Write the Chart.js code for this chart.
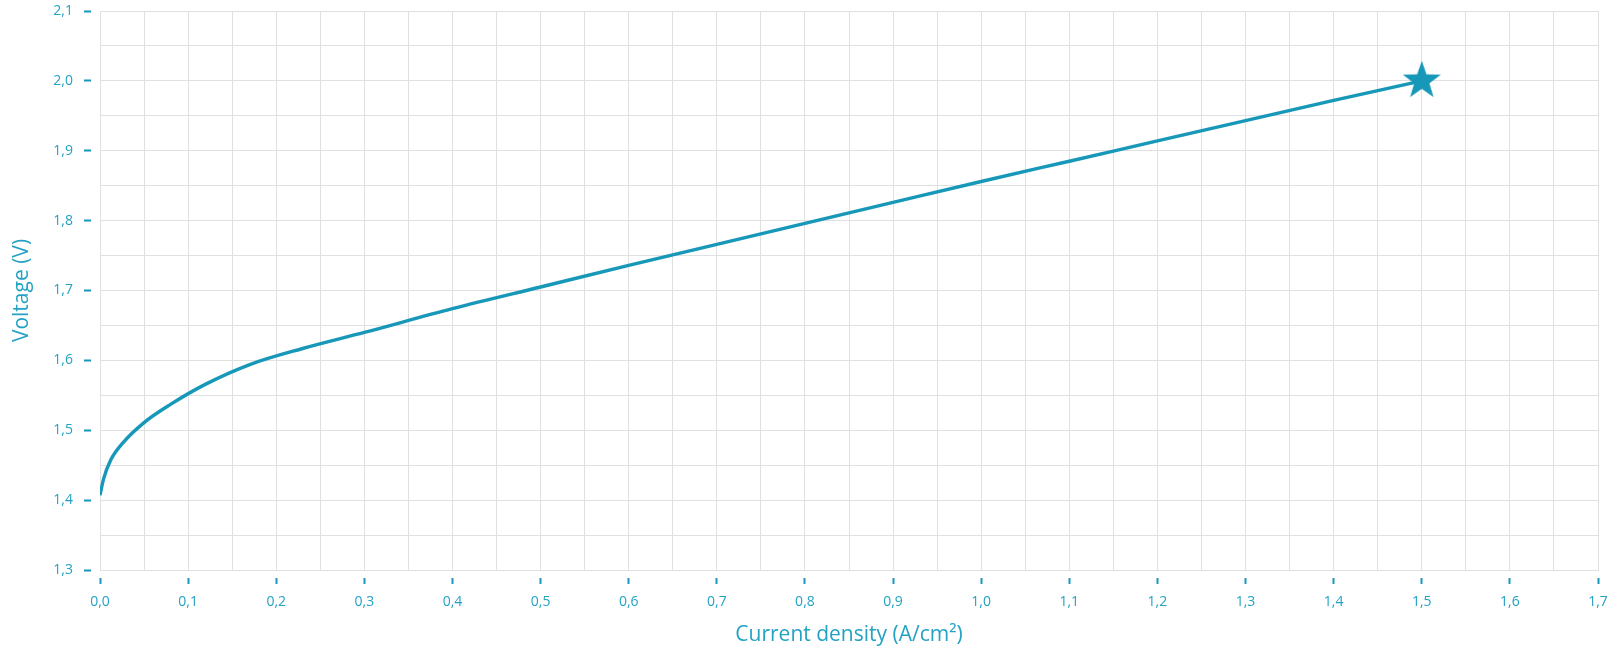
<!DOCTYPE html>
<html>
<head>
<meta charset="utf-8">
<script src="https://cdn.jsdelivr.net/npm/chart.js@4"></script>
<style>
  html, body { margin: 0; padding: 0; background: #ffffff; }
  #wrap { width: 1612px; height: 652px; }
</style>
</head>
<body>
<div id="wrap"><canvas id="polCurve"></canvas></div>
<script>
/* ─── DATA ─────────────────────────────────────────────
   Polarisation curve.               */
const currentDensity = [0, 0.004, 0.012, 0.026, 0.05, 0.08, 0.12, 0.17, 0.23, 0.3, 0.4, 0.5, 0.6, 0.7, 0.8, 0.9, 1.0, 1.1, 1.2, 1.3, 1.4, 1.5];
const voltage        = [1.407, 1.430, 1.457, 1.482, 1.511, 1.537, 1.566, 1.594, 1.617, 1.640, 1.674, 1.705, 1.736, 1.766, 1.796, 1.826, 1.856, 1.885, 1.914, 1.943, 1.972, 2.0];
const markerPoint    = { x: 1.5, y: 2.0 };
const xTitle = 'Current density (A/cm²)';
const yTitle = 'Voltage (V)';

const teal     = '#1798b9';
const textTeal = '#23a2c4';
const gridGray = '#e0e0e0';

/* filled five point star used as the end marker */
function makeStar(R) {
  const c = document.createElement('canvas');
  const s = Math.ceil(R * 2 + 4);
  c.width = s; c.height = s;
  const g = c.getContext('2d');
  const cx = s / 2, cy = s / 2, r = R * 0.4;
  g.beginPath();
  for (let i = 0; i < 10; i++) {
    const rad = i % 2 === 0 ? R : r;
    const a = -Math.PI / 2 + i * Math.PI / 5;
    g.lineTo(cx + rad * Math.cos(a), cy + rad * Math.sin(a));
  }
  g.closePath();
  g.fillStyle = teal;
  g.fill();
  return c;
}

const isMajor = (v) => Math.abs(v * 10 - Math.round(v * 10)) < 1e-6;
const fmt = (v) => v.toFixed(1).replace('.', ',');

new Chart(document.getElementById('polCurve'), {
  type: 'line',
  data: {
    datasets: [
      {
        data: currentDensity.map((x, i) => ({ x, y: voltage[i] })),
        borderColor: teal,
        borderWidth: 3.4,
        pointRadius: 0,
        cubicInterpolationMode: 'monotone',
        fill: false
      },
      {
        data: [markerPoint],
        showLine: false,
        pointStyle: makeStar(20),
        pointRadius: 20
      }
    ]
  },
  options: {
    responsive: true,
    maintainAspectRatio: false,
    animation: false,
    layout: { autoPadding: false, padding: { top: 11, right: 14, left: 0, bottom: 0 } },
    plugins: { legend: { display: false }, tooltip: { enabled: false } },
    scales: {
      x: {
        type: 'linear',
        min: 0, max: 1.7,
        afterFit: (s) => { s.height = 82; s.paddingLeft = 0; s.paddingRight = 0; },
        border: { color: gridGray, width: 1 },
        grid: {
          color: gridGray,
          lineWidth: 1,
          tickLength: 14,
          tickWidth: 2,
          tickBorderDash: [7, 7],
          tickBorderDashOffset: 7,
          tickColor: (ctx) => isMajor(ctx.tick.value) ? teal : 'rgba(0,0,0,0)'
        },
        ticks: {
          stepSize: 0.05,
          padding: 10,
          maxRotation: 0,
          autoSkip: false,
          color: textTeal,
          font: { family: "'Open Sans', sans-serif", size: 14 },
          callback: (v) => isMajor(v) ? fmt(v) : ''
        },
        title: {
          display: true,
          text: xTitle,
          color: textTeal,
          font: { family: "'Open Sans', sans-serif", size: 21 },
          padding: { top: 0, bottom: 4 }
        }
      },
      y: {
        type: 'linear',
        min: 1.3, max: 2.1,
        afterFit: (s) => { s.width = 100; s.paddingTop = 0; s.paddingBottom = 0; },
        border: { color: gridGray, width: 1 },
        grid: {
          color: gridGray,
          lineWidth: 1,
          tickLength: 16,
          tickWidth: 2,
          tickBorderDash: [7, 20],
          tickColor: (ctx) => isMajor(ctx.tick.value) ? teal : 'rgba(0,0,0,0)'
        },
        ticks: {
          stepSize: 0.05,
          padding: 11,
          autoSkip: false,
          color: textTeal,
          font: { family: "'Open Sans', sans-serif", size: 14 },
          callback: (v) => isMajor(v) ? fmt(v) : ''
        },
        title: {
          display: true,
          text: yTitle,
          color: textTeal,
          font: { family: "'Open Sans', sans-serif", size: 21 },
          padding: { top: 9, bottom: 0 }
        }
      }
    }
  }
});
</script>
</body>
</html>
